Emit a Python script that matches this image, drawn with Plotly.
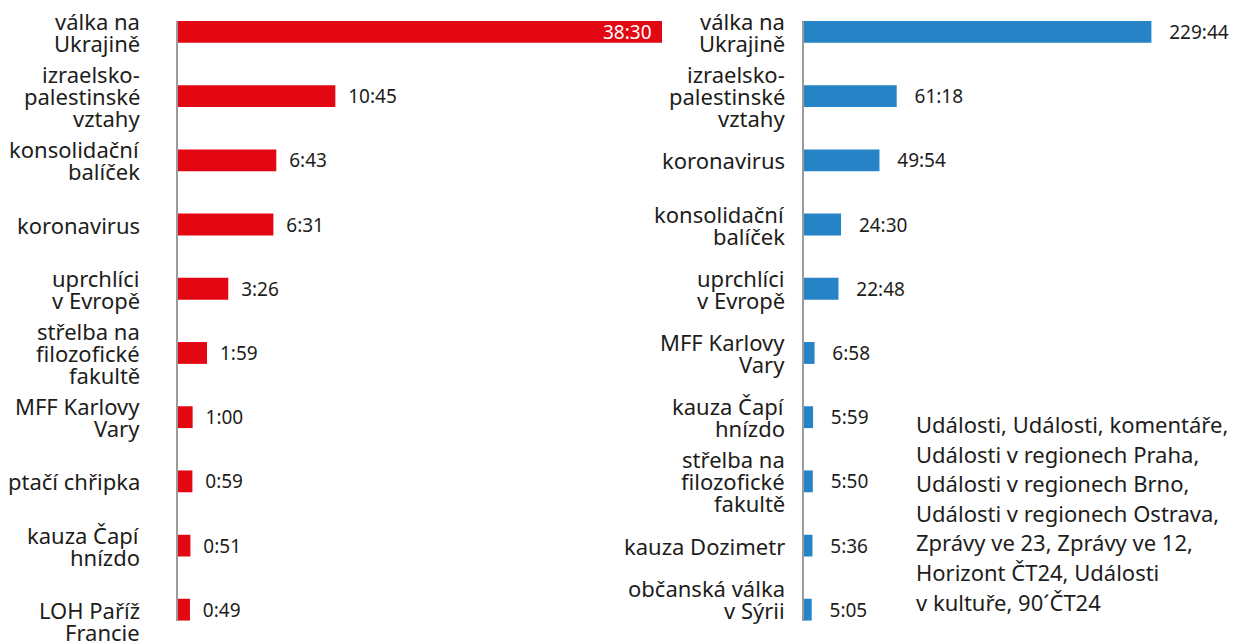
import plotly.graph_objects as go

# ---- data ----
left_topics = ["válka na<br>Ukrajině", "izraelsko-<br>palestinské<br>vztahy", "konsolidační<br>balíček",
               "koronavirus", "uprchlíci<br>v Evropě", "střelba na<br>filozofické<br>fakultě",
               "MFF Karlovy<br>Vary", "ptačí chřipka", "kauza Čapí<br>hnízdo", "<br>LOH Paříž<br>Francie"]
left_times = ["38:30", "10:45", "6:43", "6:31", "3:26", "1:59", "1:00", "0:59", "0:51", "0:49"]

right_topics = ["válka na<br>Ukrajině", "izraelsko-<br>palestinské<br>vztahy", "koronavirus",
                "konsolidační<br>balíček", "uprchlíci<br>v Evropě", "MFF Karlovy<br>Vary",
                "kauza Čapí<br>hnízdo", "střelba na<br>filozofické<br>fakultě", "kauza Dozimetr",
                "občanská válka<br>v Sýrii<br>"]
right_times = ["229:44", "61:18", "49:54", "24:30", "22:48", "6:58", "5:59", "5:50", "5:36", "5:05"]

note_lines = ["Události, Události, komentáře,", "Události v regionech Praha,",
              "Události v regionech Brno,", "Události v regionech Ostrava,",
              "Zprávy ve 23, Zprávy ve 12,", "Horizont ČT24, Události", "v kultuře, 90´ČT24"]


def to_sec(t):
    m, s = t.split(":")
    return int(m) * 60 + int(s)


left_vals = [to_sec(t) for t in left_times]
right_vals = [to_sec(t) for t in right_times]

W, H = 1239, 641
RED = "#e30613"
BLUE = "#2683c6"
TXT = "#1d1d1b"
FONT = "Noto Sans"
NB = "\u00a0"
LABEL_SIZE = 22
VALUE_SIZE = 19
LINE_PITCH = 22

left_max = 1984  # axis cut-off: the largest bar is truncated at the plot edge
right_max = 17260

left_text = ["" if i == 0 else NB * 2 + t for i, t in enumerate(left_times)]
right_text = [NB * 3 + t for t in right_times]

fig = go.Figure()
fig.add_trace(go.Bar(
    x=left_vals, y=list(range(len(left_topics))), orientation="h",
    marker=dict(color=RED, line=dict(width=0)),
    text=left_text, textposition="outside", textangle=0, constraintext="none",
    outsidetextfont=dict(color=TXT, size=VALUE_SIZE, family=FONT),
    xaxis="x", yaxis="y", hoverinfo="skip", cliponaxis=False,
))
fig.add_trace(go.Bar(
    x=right_vals, y=list(range(len(right_topics))), orientation="h",
    marker=dict(color=BLUE, line=dict(width=0)),
    text=right_text, textposition="outside", textangle=0, constraintext="none",
    outsidetextfont=dict(color=TXT, size=VALUE_SIZE, family=FONT),
    xaxis="x2", yaxis="y2", hoverinfo="skip", cliponaxis=False,
))

ydom = [1 - 620.7 / H, 1 - 21 / H]
yr = [len(left_topics) - 1 + 0.17, -0.17]
yaxis_common = dict(domain=ydom, range=yr, showline=True, linecolor="#9b9b9b", linewidth=2,
                    ticks="", showticklabels=False, showgrid=False, zeroline=False,
                    automargin=False, fixedrange=True)

fig.update_layout(
    width=W, height=H, margin=dict(l=0, r=0, t=0, b=0, autoexpand=False),
    paper_bgcolor="white", plot_bgcolor="white", showlegend=False,
    bargap=0.66, font=dict(family=FONT, size=18, color=TXT),
    xaxis=dict(domain=[178 / W, 662 / W], range=[0, left_max], visible=False,
               fixedrange=True, automargin=False),
    yaxis=dict(anchor="x", **yaxis_common),
    xaxis2=dict(domain=[804 / W, 1.0], range=[0, right_max], visible=False,
                fixedrange=True, anchor="y2", automargin=False),
    yaxis2=dict(anchor="x2", **yaxis_common),
)


# category labels (one text per line, tight line spacing)
def add_labels(topics, xref, yref, xshift):
    for i, topic in enumerate(topics):
        lines = topic.split("<br>")
        n = len(lines)
        for j, line in enumerate(lines):
            if not line:
                continue
            fig.add_annotation(
                text=line, xref=xref, yref=yref, x=0, y=i, xanchor="right", yanchor="middle",
                xshift=xshift, yshift=((n - 1) / 2 - j) * LINE_PITCH, showarrow=False,
                font=dict(family=FONT, size=LABEL_SIZE, color=TXT),
            )


add_labels(left_topics, "x", "y", -36)
add_labels(right_topics, "x2", "y2", -17)

# label of the truncated bar, inside its visible end
fig.add_annotation(
    text=left_times[0], xref="x", yref="y", x=left_max, y=0, xanchor="right", yanchor="middle",
    xshift=-8, showarrow=False, font=dict(family=FONT, size=VALUE_SIZE, color="white"),
)

for i, line in enumerate(note_lines):
    fig.add_annotation(
        text=line, xref="paper", yref="paper", x=914 / W, y=1 - (424 + i * 29.6) / H,
        xanchor="left", yanchor="middle", showarrow=False,
        font=dict(family=FONT, size=22, color=TXT),
    )

fig.write_html("out.html", config={"displayModeBar": False},
               post_script="document.body.style.margin='0';")
